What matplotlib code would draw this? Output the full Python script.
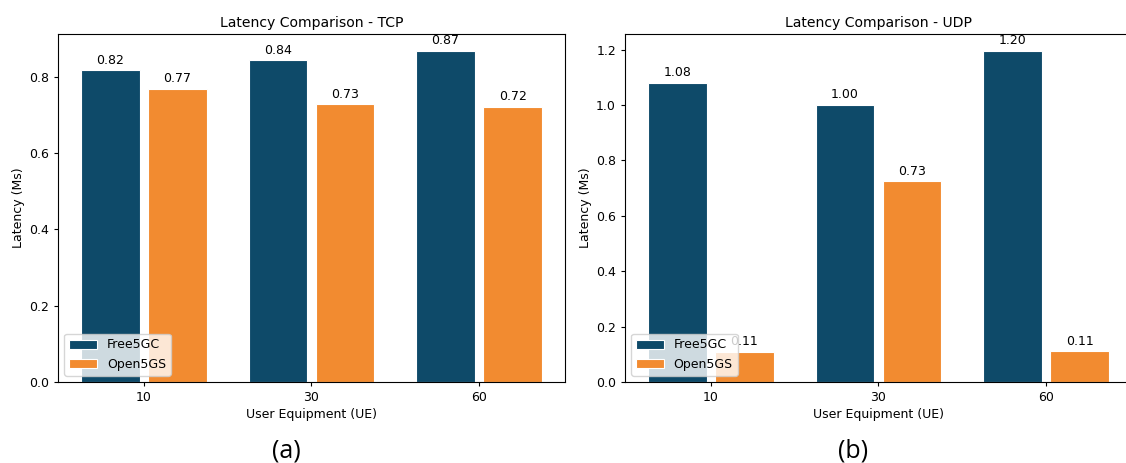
import numpy as np
import matplotlib.pyplot as plt

# data
ue_labels = ['10', '30', '60']
tcp_free5gc = [0.816, 0.842, 0.868]
tcp_open5gs = [0.768, 0.727, 0.721]
udp_free5gc = [1.080, 1.001, 1.197]
udp_open5gs = [0.109, 0.726, 0.112]

blue = '#0e4a69'
orange = '#f28b30'

fig = plt.figure(figsize=(11.26, 4.63), dpi=100)
ax1 = fig.add_axes([58 / 1126, 81 / 463, 507 / 1126, 348 / 463])
ax2 = fig.add_axes([625 / 1126, 81 / 463, 507 / 1126, 348 / 463])

x = np.arange(len(ue_labels))
w = 0.35
fs = 9


def draw(ax, free, opn, title):
    b1 = ax.bar(x - 0.2, free, w, color=blue, edgecolor='white', linewidth=0.8, label='Free5GC')
    b2 = ax.bar(x + 0.2, opn, w, color=orange, edgecolor='white', linewidth=0.8, label='Open5GS')
    for bars in (b1, b2):
        for b in bars:
            ax.annotate(f'{b.get_height():.2f}',
                        (b.get_x() + b.get_width() / 2, b.get_height()),
                        xytext=(0, 2.5), textcoords='offset points',
                        ha='center', va='bottom', fontsize=fs)
    ax.set_xticks(x)
    ax.set_xticklabels(ue_labels)
    ax.set_title(title, fontsize=10.1, pad=5)
    ax.set_xlabel('User Equipment (UE)', fontsize=fs, labelpad=3)
    ax.set_ylabel('Latency (Ms)', fontsize=fs, labelpad=3)
    ax.tick_params(labelsize=fs, length=3)
    ax.legend(loc='lower left', fontsize=fs, handlelength=2.2)


draw(ax1, tcp_free5gc, tcp_open5gs, 'Latency Comparison - TCP')
draw(ax2, udp_free5gc, udp_open5gs, 'Latency Comparison - UDP')

fig.text(286 / 1126, 1 - 451 / 463, '(a)', ha='center', va='center',
         fontsize=18, family='Open Sans')
fig.text(853 / 1126, 1 - 451 / 463, '(b)', ha='center', va='center',
         fontsize=18, family='Open Sans')

fig.savefig('out.png', dpi=100)
